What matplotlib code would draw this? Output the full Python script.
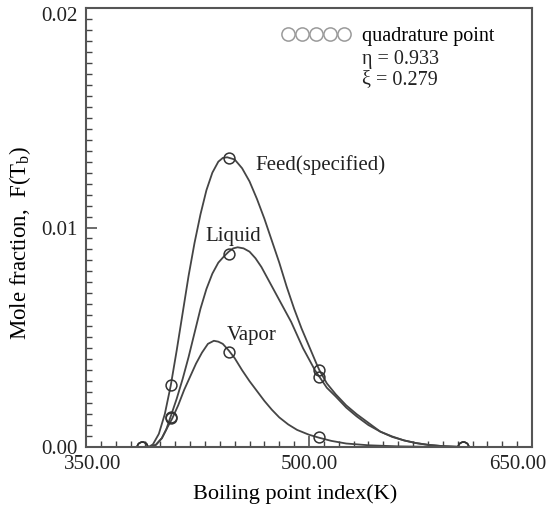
import matplotlib
matplotlib.use("Agg")
import matplotlib.pyplot as plt
from matplotlib.lines import Line2D
from matplotlib.ticker import MultipleLocator
from matplotlib.transforms import ScaledTranslation

plt.rcParams['font.family'] = ['Liberation Serif', 'DejaVu Serif']
plt.rcParams['mathtext.fontset'] = 'stix'

# curves (boiling point index K, mole fraction)
feed_x = [392, 395, 399, 403, 407, 411, 415, 419, 423, 427, 431, 435, 439, 442, 445,
          450, 455, 460, 465, 470, 475, 480, 485, 490, 495, 500, 505, 507,
          512, 518, 525, 532, 540, 548, 556, 564, 572, 580, 590, 604, 615]
feed_y = [0.0, 0.00012, 0.0006, 0.0015, 0.0028, 0.0044, 0.0061, 0.0078, 0.0093, 0.0106,
          0.0117, 0.0125, 0.0130, 0.01317, 0.0132,
          0.0131, 0.0127, 0.0121, 0.0113, 0.0104, 0.0094, 0.0084, 0.0073, 0.0063, 0.0054,
          0.0046, 0.0038, 0.0035,
          0.0029, 0.0024, 0.0019, 0.0015, 0.0011, 0.0007, 0.00048, 0.0003, 0.00018,
          0.0001, 0.00004, 0.0, 0.0]

liq_x = [393, 397, 401, 404, 407, 411, 415, 419, 423, 427, 431, 435, 439, 443, 446,
         449, 452, 456, 460, 464, 468, 472, 476, 480, 484, 488, 492, 496, 500, 504, 507,
         512, 518, 525, 532, 540, 548, 556, 564, 572, 580, 590, 604, 615]
liq_y = [0.0, 0.0001, 0.0004, 0.0008, 0.0014, 0.0022, 0.0031, 0.0041, 0.0052, 0.0063,
         0.0072, 0.0079, 0.0084, 0.0087, 0.0089,
         0.00905, 0.0091, 0.00905, 0.0089, 0.0086, 0.0082, 0.0077, 0.0072, 0.0067,
         0.0062, 0.0057, 0.0051, 0.0045, 0.0040, 0.0035, 0.0032,
         0.0027, 0.0023, 0.0018, 0.0014, 0.0010, 0.0007, 0.00046, 0.0003, 0.00018,
         0.0001, 0.00004, 0.0, 0.0]

vap_x = [393, 397, 401, 404, 408, 412, 416, 420, 424, 428, 432, 436, 439, 442, 446,
         450, 455, 460, 465, 470, 475, 480, 486, 492, 500, 507, 515, 525, 540, 560,
         590, 615]
vap_y = [0.0, 0.0001, 0.0004, 0.0008, 0.0013, 0.0019, 0.0026, 0.0032, 0.0038, 0.0043,
         0.0047, 0.00484, 0.0048, 0.0047, 0.0044,
         0.00405, 0.0035, 0.0030, 0.00255, 0.0021, 0.0017, 0.00135, 0.00103, 0.00078,
         0.00056, 0.00042, 0.00028, 0.00016, 0.00008, 0.00003, 0.0, 0.0]

# quadrature points
quad_x = [387.4, 406.9, 446.0, 506.9, 603.6]
quad_feed = [0.0, 0.00282, 0.01315, 0.00351, 0.0]
quad_liq = [0.0, 0.00138, 0.00878, 0.00320, 0.0]
quad_vap = [0.0, 0.00130, 0.00434, 0.00044, 0.0]

xticks = [350, 500, 650]
xtick_labels = ["350.00", "500.00", "650.00"]
yticks = [0.0, 0.01, 0.02]
ytick_labels = ["0.00", "0.01", "0.02"]

fig = plt.figure(figsize=(5.56, 5.11), dpi=100)
ax = fig.add_axes([0.1547, 0.1252, 0.8021, 0.8591])

line_col = '#454545'
for xs, ys in [(feed_x, feed_y), (liq_x, liq_y), (vap_x, vap_y)]:
    ax.plot(xs, ys, color=line_col, lw=1.3, solid_joinstyle='round')

for ys in [quad_feed, quad_liq, quad_vap]:
    ax.plot(quad_x, ys, 'o', mfc='none', mec='#333333', mew=1.1, ms=7.8, ls='none')

ax.text(464, 0.01285, "Feed(specified)", fontsize=15, va='center', color='#222222')
ax.text(430, 0.00961, "Liquid", fontsize=15, va='center', color='#222222')
ax.text(444.8, 0.0051, "Vapor", fontsize=15, va='center', color='#222222')

# legend-like note
h = Line2D([], [], marker='o', ls='none', mfc='none', mec='#9a9a9a', mew=1.1, ms=9.5)
ax.legend([h], ["quadrature point"], numpoints=5, frameon=False, loc='upper left',
          bbox_to_anchor=(0.4395, 0.958), borderpad=0, borderaxespad=0,
          handlelength=3.4, handletextpad=0.55, prop={'size': 14.5})
ax.text(0.619, 0.905, "η = 0.933\nξ = 0.279", transform=ax.transAxes, fontsize=14.5,
        va='top', ha='left', linespacing=1.1, color='#222222')

ax.set_xlim(350, 650)
ax.set_ylim(0, 0.02)
ax.set_xticks(xticks)
ax.set_xticklabels(xtick_labels)
ax.set_yticks(yticks)
ax.set_yticklabels(ytick_labels)
ax.xaxis.set_minor_locator(MultipleLocator(10))
ax.yaxis.set_minor_locator(MultipleLocator(0.0005))
ax.tick_params(which='both', direction='in', top=False, right=False,
               labelsize=15, colors='#444444', labelcolor='#222222')
ax.tick_params(which='major', length=8, width=1.1, pad=6)
ax.tick_params(which='minor', length=4, width=1.0)

for s in ax.spines.values():
    s.set_color('#555555')
    s.set_linewidth(1.5)

ax.set_xlabel("Boiling point index(K)", fontsize=16)
ax.xaxis.set_label_coords(0.47, -0.085)
ax.set_ylabel("Mole fraction,  F(T$_\\mathregular{b}$)", fontsize=16.5)
ax.yaxis.set_label_coords(-0.118, 0.465)

# nudge the edge tick labels inward like the original
xl = ax.get_xticklabels()
xl[0].set_transform(xl[0].get_transform() + ScaledTranslation(0.07, 0, fig.dpi_scale_trans))
xl[2].set_transform(xl[2].get_transform() + ScaledTranslation(-0.14, 0, fig.dpi_scale_trans))
yl = ax.get_yticklabels()
yl[2].set_transform(yl[2].get_transform() + ScaledTranslation(0, -0.06, fig.dpi_scale_trans))

fig.savefig("out.png", dpi=100)
